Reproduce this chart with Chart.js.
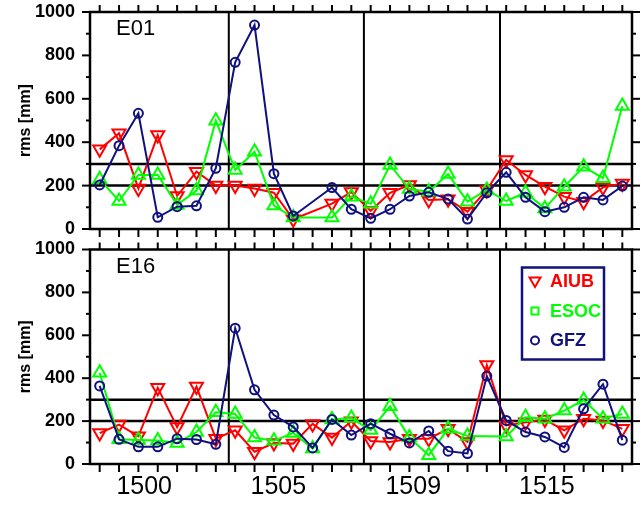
<!DOCTYPE html>
<html>
<head>
<meta charset="utf-8">
<script src="https://cdn.jsdelivr.net/npm/chart.js@4.4.1/dist/chart.umd.min.js"></script>
<style>
  html, body { margin: 0; padding: 0; background: #fff; }
  #wrap { position: relative; width: 644px; height: 506px; }
  canvas { position: absolute; left: 0; }
  #e01 { top: 0; }
  #e16 { top: 240px; }
</style>
</head>
<body>
<div id="wrap">
  <canvas id="e01" width="644" height="240"></canvas>
  <canvas id="e16" width="644" height="266"></canvas>
</div>
<script>
// one point per week, index along the x axis
const weekIndex = [0, 1, 2, 3, 4, 5, 6, 7, 8, 9, 10, 11, 12, 13, 14, 15, 16, 17, 18, 19, 20, 21, 22, 23, 24, 25, 26, 27];
const weekLabels = ['1500', '1505', '1509', '1515'];
const weekLabelPos = [2.3, 9.23, 16.2, 23.1];

// reference lines
const markerLines = [6.67, 13.65, 20.68];
const limitLines = [200, 300];

const centers = ['AIUB', 'ESOC', 'GFZ'];

// E01 rms [mm]
const e01Aiub = [367, 441, 187, 433, 152, 264, 200, 200, 187, 167, 45, null, 117, 170, 84, 167, 203, 134, 137, 80, 180, 318, 249, 195, 149, 126, 192, 210];
const e01Esoc = [229, 129, 249, 249, 111, 177, 499, 272, 356, 108, 53, null, 53, 149, 116, 295, 184, 172, 253, 126, 180, 129, 167, 95, 195, 287, 234, 567];
const e01Gfz = [203, 384, 533, 54, 103, 107, 280, 768, 940, 255, 60, null, 191, 91, 49, 91, 152, 169, 138, 46, 167, 261, 146, 80, 100, 146, 134, 198];

// E16 rms [mm]
const e16Aiub = [144, 184, 129, 356, 172, 361, 118, 157, 57, 98, 95, 187, 123, 199, 107, 103, 118, 118, 164, 103, 461, 180, 195, 207, 157, 211, 203, 164];
const e16Esoc = [425, 115, 112, 110, 98, 149, 241, 233, 123, 108, 145, 72, 208, 214, 158, 269, 123, 41, 164, 130, null, 128, 218, 211, 249, 298, 211, 233];
const e16Gfz = [364, 115, 80, 80, 118, 114, 92, 633, 346, 228, 173, 75, 208, 135, 188, 141, 98, 154, 60, 49, 410, 203, 149, 126, 77, 257, 372, 111];

const RED = '#ff0000';
const GREEN = '#00ff00';
const NAVY = '#10107e';
const FONT = '"Liberation Sans", Arial, Helvetica, sans-serif';

Chart.defaults.font.family = FONT;
Chart.defaults.color = '#000';

function toPoints(values) {
  return weekIndex.map((w, i) => ({ x: w, y: values[i] }));
}

function line(ctx, x1, y1, x2, y2) {
  ctx.beginPath();
  ctx.moveTo(x1, y1);
  ctx.lineTo(x2, y2);
  ctx.stroke();
}

function legendMarker(ctx, kind, x, y) {
  ctx.beginPath();
  if (kind === 'down') {
    ctx.moveTo(x - 5.5, y - 4);
    ctx.lineTo(x + 5.5, y - 4);
    ctx.lineTo(x, y + 5.5);
    ctx.closePath();
  } else if (kind === 'square') {
    ctx.rect(x - 3.5, y - 3.5, 7, 7);
  } else {
    ctx.arc(x, y, 4, 0, Math.PI * 2);
  }
  ctx.stroke();
}

const framePlugin = {
  id: 'frame',
  beforeDatasetsDraw(chart) {
    const { ctx, chartArea: a, scales: { x, y } } = chart;
    ctx.save();
    ctx.strokeStyle = '#000';
    ctx.lineWidth = 2.5;
    limitLines.forEach(v => {
      const py = y.getPixelForValue(v);
      line(ctx, a.left, py, a.right, py);
    });
    ctx.lineWidth = 2;
    markerLines.forEach(v => {
      const px = x.getPixelForValue(v);
      line(ctx, px, a.top, px, a.bottom);
    });
    ctx.restore();
  },
  afterDatasetsDraw(chart, args, opts) {
    const { ctx, chartArea: a, scales: { x, y } } = chart;
    ctx.save();
    ctx.strokeStyle = '#000';
    ctx.lineWidth = 2;
    weekIndex.forEach(w => {
      const px = x.getPixelForValue(w);
      line(ctx, px, a.top, px, a.top - 7);
      line(ctx, px, a.bottom, px, a.bottom + 8);
    });
    for (let v = 0; v <= 1000; v += 100) {
      const py = y.getPixelForValue(v);
      const len = v % 200 === 0 ? 8 : 4;
      line(ctx, a.left - len, py, a.left, py);
      line(ctx, a.right, py, a.right + len, py);
    }
    ctx.lineWidth = 2.5;
    ctx.strokeRect(a.left, a.top, a.right - a.left, a.bottom - a.top);

    ctx.fillStyle = '#000';
    ctx.font = '22px ' + FONT;
    ctx.textBaseline = 'alphabetic';
    ctx.textAlign = 'left';
    ctx.fillText(opts.title, a.left + 26, a.top + 23);

    if (opts.legend) {
      const bx = a.right - 110, by = a.top + 18, bw = 82, bh = 92;
      ctx.fillStyle = '#fff';
      ctx.fillRect(bx, by, bw, bh);
      ctx.strokeStyle = NAVY;
      ctx.lineWidth = 2.5;
      ctx.strokeRect(bx, by, bw, bh);
      const kinds = ['down', 'square', 'circle'];
      chart.data.datasets.forEach((ds, k) => {
        const ry = by + 14 + k * 29.5;
        ctx.strokeStyle = ds.borderColor;
        ctx.lineWidth = 2;
        legendMarker(ctx, kinds[k], bx + 13, ry);
        ctx.fillStyle = ds.borderColor;
        ctx.font = 'bold 18px ' + FONT;
        ctx.textBaseline = 'middle';
        ctx.fillText(ds.label, bx + 28, ry + 1);
      });
    }
    ctx.restore();
  }
};

function series(label, values, color, style, rotation, radius) {
  return {
    label: label,
    data: toPoints(values),
    borderColor: color,
    backgroundColor: 'rgba(0,0,0,0)',
    borderWidth: 2,
    pointStyle: style,
    pointRotation: rotation,
    pointRadius: radius,
    pointBorderWidth: 2,
    pointBackgroundColor: 'rgba(0,0,0,0)',
    spanGaps: true,
    order: 3 - centers.indexOf(label)
  };
}

function makePanel(id, title, aiub, esoc, gfz, topPad, xHeight, showLabels, legend) {
  return new Chart(document.getElementById(id), {
    type: 'line',
    data: {
      datasets: [
        series('AIUB', aiub, RED, 'triangle', 180, 7.5),
        series('ESOC', esoc, GREEN, 'triangle', 0, 7.5),
        series('GFZ', gfz, NAVY, 'circle', 0, 4.5)
      ]
    },
    options: {
      responsive: false,
      animation: false,
      events: [],
      layout: { padding: { top: topPad, right: 12, bottom: 0, left: 0 } },
      scales: {
        x: {
          type: 'linear',
          min: -0.5,
          max: 27.5,
          grid: { display: false, drawTicks: false },
          border: { display: false },
          ticks: {
            display: showLabels,
            autoSkip: false,
            maxRotation: 0,
            padding: 8,
            font: { size: 25 },
            color: '#000',
            callback: (v, i) => weekLabels[i]
          },
          afterBuildTicks: scale => {
            scale.ticks = weekLabelPos.map(v => ({ value: v }));
          },
          afterFit: scale => {
            scale.height = xHeight;
            scale.paddingLeft = 0;
            scale.paddingRight = 0;
          }
        },
        y: {
          min: 0,
          max: 1000,
          grid: { display: false, drawTicks: false },
          border: { display: false },
          ticks: {
            stepSize: 200,
            padding: 15,
            font: { size: 18, weight: 'bold' },
            color: '#000',
            callback: v => String(v)
          },
          title: {
            display: true,
            text: 'rms [mm]',
            font: { size: 16, weight: 'bold' },
            color: '#000',
            padding: { top: 16, bottom: 0 }
          },
          afterFit: scale => {
            scale.width = 90;
            scale.paddingTop = 0;
            scale.paddingBottom = 0;
          }
        }
      },
      plugins: {
        legend: { display: false },
        tooltip: { enabled: false },
        frame: { title: title, legend: legend }
      }
    },
    plugins: [framePlugin]
  });
}

makePanel('e01', 'E01', e01Aiub, e01Esoc, e01Gfz, 12, 11, false, false);
makePanel('e16', 'E16', e16Aiub, e16Esoc, e16Gfz, 7, 42, true, true);
</script>
</body>
</html>
